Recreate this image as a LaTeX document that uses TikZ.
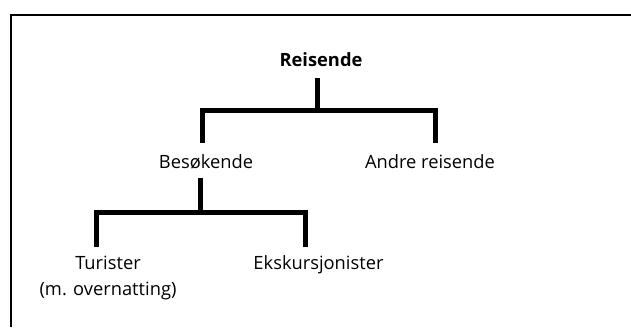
\documentclass[tikz,border=0pt]{standalone}
\usepackage{fontspec}
\setmainfont{Open Sans}
\begin{document}
\begin{tikzpicture}[x=1pt, y=-1pt,
    lbl/.style={font=\fontsize{18.3}{26}\selectfont, inner sep=0pt, anchor=base, align=center},
    branch/.style={line width=5pt, line join=miter},
    frame/.style={line width=2pt}]
    \useasboundingbox (0,0) rectangle (631,327);
    \draw [frame] (11,327) -- (11,15) -- (632,15);
    % levels
    \node [lbl, font=\fontsize{18.3}{26}\selectfont\bfseries] (reis) at (321,66) {Reisende};
    \node [lbl] (besok) at (206,168) {Besøkende};
    \node [lbl] (andre) at (430,168) {Andre reisende};
    \node [lbl] (turist) at (108,295) {Turister\\(m. overnatting)};
    \node [lbl] (ekskur) at (318.5,269) {Ekskursjonister};
    % junctions
    \coordinate (j1) at (317,110);
    \coordinate (j2) at (200,212);
    \draw [branch] ([xshift=-4pt, yshift=-12pt]reis.base) -- (j1);
    \draw [branch] ([xshift=-4pt, yshift=25pt]besok.base) |- (j1) -| ([xshift=5pt, yshift=25pt]andre.base);
    \draw [branch] ([xshift=-6pt, yshift=-10pt]besok.base) -- (j2);
    \draw [branch] ([xshift=-12pt, yshift=48pt]turist.base) |- (j2) -| ([xshift=-13pt, yshift=22pt]ekskur.base);
\end{tikzpicture}
\end{document}
